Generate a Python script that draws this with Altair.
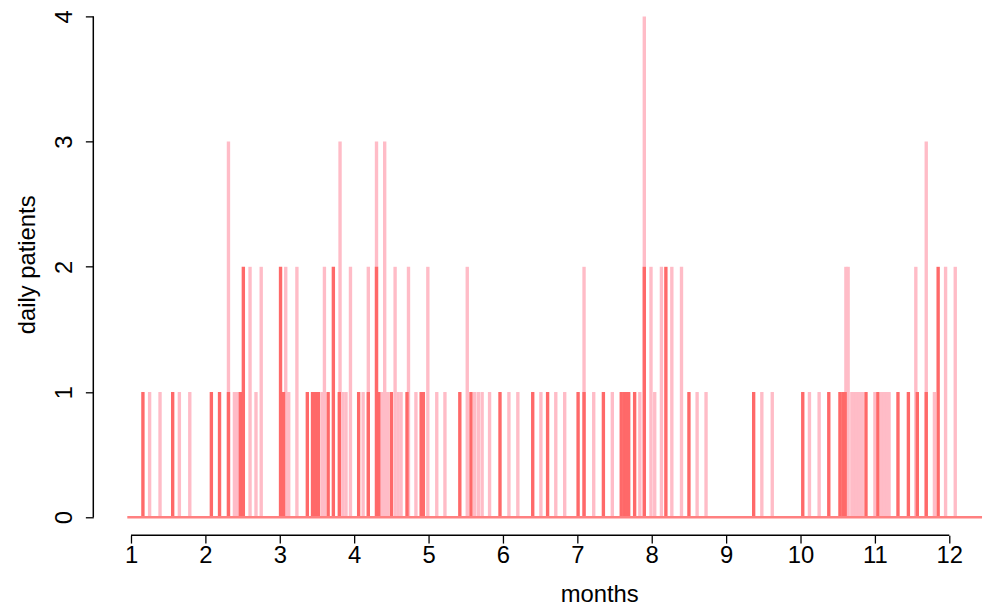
import altair as alt
import pandas as pd

# ---- data (month position of each day, patients that day) ----
pink_months = [1.25, 1.39, 1.65, 1.79, 2.31, 2.39, 2.43, 2.60, 2.68, 2.75,
               3.08, 3.12, 3.23, 3.57, 3.60, 3.81, 3.85, 3.89, 3.95, 4.12,
               4.19, 4.30, 4.37, 4.41, 4.45, 4.55, 4.59, 4.63, 4.73, 4.83,
               4.99, 5.11, 5.22, 5.52, 5.62, 5.67, 5.72, 5.82, 6.08, 6.20,
               6.51, 6.71, 6.83, 7.09, 7.22, 7.47, 7.84, 7.90, 7.99, 8.04,
               8.13, 8.27, 8.40, 8.61, 8.73, 9.48, 9.62, 10.12, 10.25, 10.61,
               10.64, 10.69, 10.72, 10.75, 10.79, 10.83, 11.00, 11.09, 11.13, 11.16,
               11.19, 11.55, 11.69, 11.80, 11.95, 12.08]
pink_counts = [1, 1, 1, 1, 3, 1, 1, 2, 1, 2,
               2, 1, 2, 1, 2, 3, 1, 1, 2, 1,
               2, 3, 1, 3, 1, 2, 1, 1, 2, 1,
               2, 1, 1, 2, 1, 1, 1, 1, 1, 1,
               1, 1, 1, 2, 1, 1, 1, 4, 2, 1,
               2, 2, 2, 1, 1, 1, 1, 1, 1, 2,
               2, 1, 1, 1, 1, 1, 1, 1, 1, 1,
               1, 2, 3, 1, 2, 2]

red_months = [1.16, 1.56, 2.08, 2.19, 2.31, 2.47, 2.51, 3.01, 3.05, 3.37,
              3.44, 3.48, 3.52, 3.65, 3.72, 3.80, 4.06, 4.19, 4.30, 4.33,
              4.50, 4.71, 4.90, 4.93, 5.42, 5.57, 5.96, 6.40, 6.60, 7.01,
              7.09, 7.35, 7.59, 7.63, 7.66, 7.69, 7.77, 7.90, 8.19, 8.50,
              9.37, 10.03, 10.38, 10.53, 10.57, 10.60, 10.88, 11.04, 11.31, 11.45,
              11.57, 11.69, 11.85]
red_counts = [1, 1, 1, 1, 1, 1, 2, 2, 1, 1,
              1, 1, 1, 1, 2, 1, 1, 1, 2, 1,
              1, 1, 1, 1, 1, 1, 1, 1, 1, 1,
              1, 1, 1, 1, 1, 1, 1, 2, 2, 1,
              1, 1, 1, 1, 1, 1, 1, 1, 1, 1,
              1, 1, 2]

x_ticks = [1, 2, 3, 4, 5, 6, 7, 8, 9, 10, 11, 12]
y_ticks = [0, 1, 2, 3, 4]
x_domain = [0.493, 12.44]
y_domain = [-0.143, 4.0]
baseline_x = [0.95, 12.44]

pink_df = pd.DataFrame({"m": pink_months, "n": pink_counts})
red_df = pd.DataFrame({"m": red_months, "n": red_counts})

FONT = "Liberation Sans"
FS = 24
xs = alt.Scale(domain=x_domain, nice=False, zero=False)
ys = alt.Scale(domain=y_domain, nice=False, zero=False)

x_axis = alt.Axis(values=x_ticks, format="d", domain=False, grid=False, tickSize=8,
                  tickColor="black", tickWidth=1.3, labelFontSize=FS,
                  labelFont=FONT, labelColor="black", labelPadding=1,
                  title="months", titleFont=FONT, titleFontSize=FS,
                  titleFontWeight="normal", titleColor="black",
                  titleX=510, titleY=67, titleBaseline="alphabetic",
                  titleAlign="center")
y_axis = alt.Axis(values=y_ticks, format="d", domain=False, grid=False, tickSize=8,
                  tickColor="black", tickWidth=1.3, labelFontSize=FS,
                  labelFont=FONT, labelColor="black", labelAngle=270,
                  labelAlign="center", labelBaseline="bottom", labelPadding=9,
                  title="daily patients", titleFont=FONT, titleFontSize=FS,
                  titleFontWeight="normal", titleColor="black",
                  titleAngle=270, titleX=-66, titleY=250,
                  titleAlign="center", titleBaseline="middle")

pink = alt.Chart(pink_df).mark_rule(color="#FFBCC7", strokeWidth=3.4).encode(
    x=alt.X("m:Q", scale=xs, axis=x_axis),
    y=alt.Y("n:Q", scale=ys, axis=y_axis),
    y2=alt.datum(0),
)
red = alt.Chart(red_df).mark_rule(color="#FF6969", strokeWidth=3.4).encode(
    x=alt.X("m:Q", scale=xs),
    y=alt.Y("n:Q", scale=ys),
    y2=alt.datum(0),
)

base_df = pd.DataFrame({"x": [baseline_x[0]], "x2": [baseline_x[1]], "y": [0]})
baseline = alt.Chart(base_df).mark_rule(color="#FF8080", strokeWidth=2.5).encode(
    x=alt.X("x:Q", scale=xs), x2="x2:Q", y=alt.Y("y:Q", scale=ys)
)

xaxis_df = pd.DataFrame({"x": [x_ticks[0]], "x2": [x_ticks[-1]], "y": [y_domain[0]]})
xaxis_line = alt.Chart(xaxis_df).mark_rule(color="black", strokeWidth=1.5).encode(
    x=alt.X("x:Q", scale=xs), x2="x2:Q", y=alt.Y("y:Q", scale=ys)
)
yaxis_df = pd.DataFrame({"x": [x_domain[0]], "y": [y_ticks[0]], "y2": [y_ticks[-1]]})
yaxis_line = alt.Chart(yaxis_df).mark_rule(color="black", strokeWidth=1.5).encode(
    x=alt.X("x:Q", scale=xs), y=alt.Y("y:Q", scale=ys), y2="y2:Q"
)

chart = alt.layer(pink, red, baseline, xaxis_line, yaxis_line).properties(
    width=896, height=523,
    background="white",
    autosize=alt.AutoSizeParams(type="none"),
    padding={"left": 86, "top": 6, "right": 4, "bottom": 70},
).configure_view(strokeWidth=0, stroke="transparent")

chart.save("out.html", embed_options={"renderer": "svg", "actions": False})
